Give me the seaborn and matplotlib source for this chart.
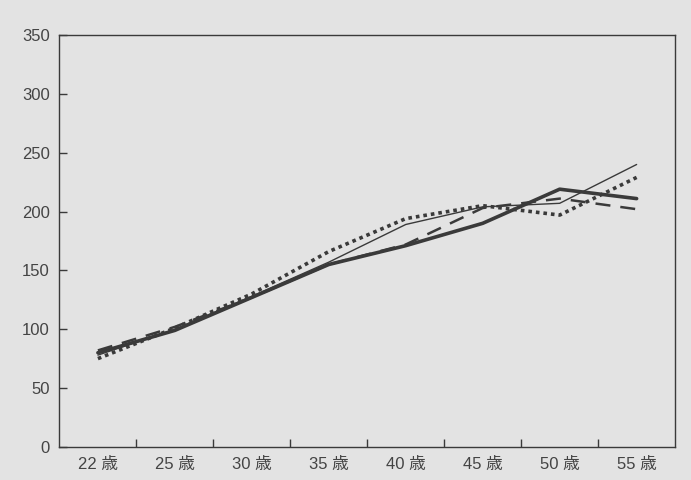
import matplotlib
matplotlib.use("Agg")
import matplotlib.pyplot as plt
import seaborn as sns
import pandas as pd
from matplotlib.ticker import FixedLocator

ages = ["22 歳", "25 歳", "30 歳", "35 歳", "40 歳", "45 歳", "50 歳", "55 歳"]
thin_solid = [78, 100, 128, 157, 189, 204, 207, 240]
thick_solid = [80, 99, 127, 155, 171, 190, 219, 211]
dashed = [82, 102, 127, 155, 172, 203, 211, 202]
dotted = [75, 101, 130, 166, 194, 205, 197, 229]

bg = "#e3e3e3"
ink = "#3a3a3a"

sns.set_theme(style="ticks")
plt.rcParams["font.family"] = ["Liberation Sans", "Noto Sans CJK JP"]

fig = plt.figure(figsize=(6.91, 4.80), dpi=100, facecolor=bg)
ax = fig.add_axes([0.086, 0.069, 0.891, 0.858])
ax.set_facecolor(bg)

pos = list(range(len(ages)))
df = pd.DataFrame({"x": pos, "thin": thin_solid, "thick": thick_solid,
                   "dash": dashed, "dot": dotted})

sns.lineplot(data=df, x="x", y="thin", ax=ax, color=ink, lw=1.0)
sns.lineplot(data=df, x="x", y="dash", ax=ax, color=ink, lw=1.8,
             linestyle=(0, (6, 4)))
sns.lineplot(data=df, x="x", y="dot", ax=ax, color=ink, lw=2.6,
             linestyle=(0, (1, 1.1)))
sns.lineplot(data=df, x="x", y="thick", ax=ax, color=ink, lw=2.6)

ax.set_xlim(-0.5, len(ages) - 0.5)
ax.set_ylim(0, 350)
ax.set_yticks(range(0, 351, 50))
ax.set_xticks(pos)
ax.set_xticklabels(ages)
ax.xaxis.set_minor_locator(FixedLocator([p + 0.5 for p in pos[:-1]]))
ax.set_xlabel("")
ax.set_ylabel("")

for s in ax.spines.values():
    s.set_visible(True)
    s.set_color(ink)
    s.set_linewidth(1.0)

ax.tick_params(axis="y", direction="in", length=6, width=1, color=ink,
               labelsize=12, labelcolor="#444444", pad=7)
ax.tick_params(axis="x", which="major", length=0, labelsize=12,
               labelcolor="#444444", pad=7)
ax.tick_params(axis="x", which="minor", direction="in", length=6, width=1,
               color=ink)

fig.savefig("out.png", dpi=100, facecolor=bg)
